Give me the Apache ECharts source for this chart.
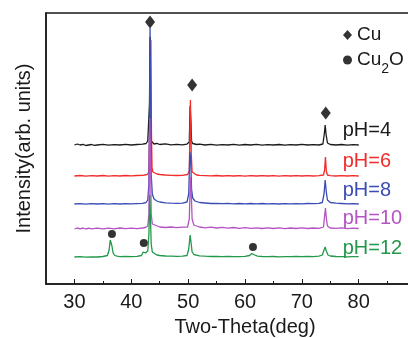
<!DOCTYPE html>
<html>
<head>
<meta charset="utf-8">
<script src="https://cdn.jsdelivr.net/npm/echarts@6/dist/echarts.min.js"></script>
<style>
  html, body { margin: 0; padding: 0; background: #fff; }
  #chart { width: 408px; height: 338px; }
</style>
</head>
<body>
<div id="chart"></div>
<script>
// x tick positions (2-Theta, deg)
const majorTicks = [30, 40, 50, 60, 70, 80]
const minorTicks = [35, 45, 55, 65, 75, 85]

// XRD traces, [2-Theta, intensity (arb.)], offset per pH
const ph4 = [[30,139],[30.5,140],[31,139],[31.5,139.6],[32,138.5],[33,139.5],[33.5,138.6],[34,139],[35,139.6],[36,138.8],[37,139.3],[38,139],[39,139.7],[40,139],[41,139.5],[42,139.8],[42.6,140.5],[42.9,143],[43.1,141],[43.2,180],[43.3,247],[43.4,170],[43.5,143],[43.7,141],[44,140],[44.5,140.6],[45,139.5],[46,140.2],[47,139.2],[48,139.7],[49,139.2],[49.8,139.9],[50.2,142],[50.35,178],[50.5,160],[50.6,143],[50.8,140.5],[51.5,139.5],[52,139.9],[53,139],[54,139.6],[55,138.8],[56,139.4],[57,139],[58,139.7],[59,138.9],[60,139.5],[61,139],[62,139.6],[63,138.8],[64,139.4],[65,139],[66,139.5],[67,138.8],[68,139.4],[69,139],[70,139.6],[71,139],[72,139.4],[73,139],[73.7,140],[73.95,150],[74.1,159],[74.25,150],[74.5,141],[75,139.5],[76,139],[77,139.5],[78,138.8],[79,139.3],[80,139]]
const ph6 = [[30,108],[31,108.5],[32,107.8],[33,108.4],[34,108],[35,108.5],[36,107.9],[37,108.4],[38,108],[39,108.5],[40,108.1],[41,108.5],[42,108.6],[42.8,109.5],[43.1,112],[43.3,180],[43.45,244],[43.55,150],[43.65,116],[43.8,112],[44,111],[44.5,110],[45,109.5],[46,109],[47,108.7],[48,108.5],[49,108.6],[49.9,109.5],[50.2,113],[50.4,184],[50.55,130],[50.7,112],[51,110],[51.5,109],[52,108.6],[53,108.4],[54,108.2],[55,108.5],[56,108],[57,108.4],[58,108],[59,108.3],[60,107.9],[61,108.3],[62,108],[63,108.4],[64,108],[65,108.3],[66,107.9],[67,108.3],[68,108],[69,108.3],[70,108],[71,108.3],[72,108],[73,108.3],[73.8,109],[74,114],[74.15,127],[74.3,113],[74.5,109],[75,108.4],[76,108],[77,108.3],[78,108],[79,108.3],[80,108]]
const ph8 = [[30,80],[31,80.4],[32,79.8],[33,80.3],[34,80],[35,80.4],[36,79.9],[37,80.3],[38,80],[39,80.4],[40,80.1],[41,80.4],[42,80.6],[42.6,81.5],[42.9,84],[43.1,100],[43.2,160],[43.3,256],[43.4,200],[43.5,110],[43.7,90],[44,85],[44.5,83],[45,82],[46,81.2],[47,80.8],[48,80.6],[49,80.8],[49.8,82],[50.1,90],[50.3,132],[50.45,125],[50.6,95],[50.8,86],[51.2,83],[52,81.5],[53,81],[54,80.5],[55,80.7],[56,80.3],[57,80.6],[58,80.2],[59,80.5],[60,80.1],[61,80.5],[62,80.2],[63,80.5],[64,80.1],[65,80.4],[66,80],[67,80.4],[68,80.1],[69,80.4],[70,80.1],[71,80.5],[72,80.3],[73,80.6],[73.6,81.5],[73.9,90],[74.1,104],[74.3,92],[74.5,84],[75,81.5],[76,80.8],[77,80.5],[78,80.2],[79,80.4],[80,80]]
const ph10 = [[30,55],[30.5,56],[31,55.2],[31.5,56],[32,55],[32.5,55.8],[33,55.2],[34,55.9],[35,55.1],[36,55.8],[37,55.2],[38,56],[39,55.3],[40,55.9],[41,55.4],[42,56],[42.5,56.5],[42.9,58],[43.1,70],[43.25,166],[43.4,120],[43.5,70],[43.7,60],[44,58],[45,57],[46,56.5],[47,57],[48,56.3],[49,56.8],[49.9,57],[50.2,65],[50.4,107],[50.55,90],[50.7,65],[51,59],[52,57],[53,56.2],[54,56.8],[55,56],[56,56.6],[57,55.8],[58,56.5],[59,55.7],[60,56.3],[61,55.6],[62,56.2],[63,55.5],[64,56.2],[65,55.5],[66,56.1],[67,55.4],[68,56],[69,55.5],[70,56.1],[71,55.5],[72,56],[73,55.6],[73.8,57],[74,68],[74.15,76],[74.3,66],[74.5,58],[75,56],[76,55.6],[77,56.1],[78,55.4],[79,55.9],[80,55.5]]
const ph12 = [[30,27],[31,27.3],[32,26.8],[33,27.2],[34,27],[35,27.5],[35.8,28.5],[36.1,34],[36.3,44],[36.45,45],[36.6,38],[36.8,31],[37.1,28.5],[37.5,27.8],[38,27.3],[39,27.5],[40,27.3],[41,27.6],[41.8,28.5],[42.1,32],[42.3,34],[42.5,31],[42.7,31],[42.9,33],[43.1,50],[43.25,89],[43.4,60],[43.5,40],[43.7,32],[44,30],[44.5,29],[45,28.5],[46,28],[47,27.8],[48,27.6],[49,27.8],[49.8,28.5],[50.1,35],[50.35,49],[50.5,42],[50.7,32],[51,29.5],[52,28.2],[53,27.8],[54,27.5],[55,27.7],[56,27.3],[57,27.5],[58,27.3],[59,27.4],[60,27.6],[60.8,28.5],[61.2,30.5],[61.4,31],[61.7,29],[62.2,27.8],[63,27.5],[64,27.3],[65,27.5],[66,27.2],[67,27.4],[68,27.3],[69,27.5],[70,27.3],[71,27.6],[72,27.4],[73,27.8],[73.6,29],[73.9,34],[74.1,37],[74.3,33],[74.6,29],[75,28],[76,27.5],[77,27.4],[78,27.2],[79,27.4],[80,27.3]]

// phase markers
const cuMarks = [[43.3, 262], [50.7, 199], [74.2, 171]]
const cu2oMarks = [[36.6, 50], [42.2, 41], [61.4, 37]]

const FONT = 'Liberation Sans, Arial, sans-serif'
const INK = '#1a1a1a'

function trace(name, data, color, offset) {
  return {
    name: name,
    type: 'line',
    data: data,
    symbol: 'none',
    lineStyle: { color: color, width: 1.3 },
    itemStyle: { color: color },
    endLabel: {
      show: true,
      formatter: '{a}',
      color: color,
      fontFamily: FONT,
      fontSize: 20,
      distance: 0,
      offset: offset
    },
    z: 2
  }
}

const chart = echarts.init(document.getElementById('chart'), null, { renderer: 'canvas' })

const option = {
  animation: false,
  // plot box runs past the right edge of the picture (x max 95)
  grid: {
    left: 46,
    top: 13,
    width: 398,
    height: 271,
    outerBoundsMode: 'none',
    show: true,
    borderColor: INK,
    borderWidth: 1.5
  },
  legend: {
    orient: 'vertical',
    left: 338,
    top: 20,
    itemWidth: 9,
    itemHeight: 10,
    itemGap: 6,
    data: [
      { name: 'Cu', icon: 'diamond' },
      { name: 'Cu2O', icon: 'circle' }
    ],
    formatter: function (name) {
      return name === 'Cu2O' ? '{a|Cu}{s|2}{a|O}' : '{a|Cu}'
    },
    textStyle: {
      rich: {
        a: { fontFamily: FONT, fontSize: 19, color: INK, lineHeight: 20, verticalAlign: 'top' },
        s: { fontFamily: FONT, fontSize: 14, color: INK, lineHeight: 14, verticalAlign: 'top', padding: [12, 0, 0, 0] }
      }
    }
  },
  xAxis: [
    {
      type: 'value',
      min: 25,
      max: 95,
      name: 'Two-Theta(deg)',
      nameLocation: 'middle',
      nameGap: 33,
      nameTextStyle: { fontFamily: FONT, fontSize: 20, color: INK },
      axisLine: { show: true, lineStyle: { color: INK, width: 1.5 } },
      axisTick: { show: true, inside: true, length: 5, customValues: majorTicks, lineStyle: { color: INK } },
      axisLabel: { customValues: majorTicks, fontFamily: FONT, fontSize: 20, color: INK, margin: 8 },
      splitLine: { show: false }
    },
    {
      type: 'value',
      min: 25,
      max: 95,
      position: 'bottom',
      axisLine: { show: false },
      axisTick: { show: true, inside: true, length: 3, customValues: minorTicks, lineStyle: { color: INK } },
      axisLabel: { show: false },
      splitLine: { show: false }
    }
  ],
  yAxis: {
    type: 'value',
    min: 0,
    max: 271,
    name: 'Intensity(arb. units)',
    nameLocation: 'middle',
    nameGap: 12,
    nameTextStyle: { fontFamily: FONT, fontSize: 20, color: INK },
    axisLine: { show: true, lineStyle: { color: INK, width: 1.5 } },
    axisTick: { show: false },
    axisLabel: { show: false },
    splitLine: { show: false }
  },
  series: [
    trace('pH=4', ph4, '#1a1a1a', [-16, -15]),
    trace('pH=6', ph6, '#f22b2b', [-16, -15]),
    trace('pH=8', ph8, '#3a4cb5', [-16, -14]),
    trace('pH=10', ph10, '#b553c4', [-16, -10]),
    trace('pH=12', ph12, '#22984a', [-16, -8]),
    {
      name: 'Cu',
      type: 'scatter',
      data: cuMarks,
      symbol: 'diamond',
      symbolSize: [10, 13],
      itemStyle: { color: '#000' },
      z: 3
    },
    {
      name: 'Cu2O',
      type: 'scatter',
      data: cu2oMarks,
      symbol: 'circle',
      symbolSize: 8,
      itemStyle: { color: '#000' },
      z: 3
    }
  ]
}

chart.setOption(option)
</script>
</body>
</html>
